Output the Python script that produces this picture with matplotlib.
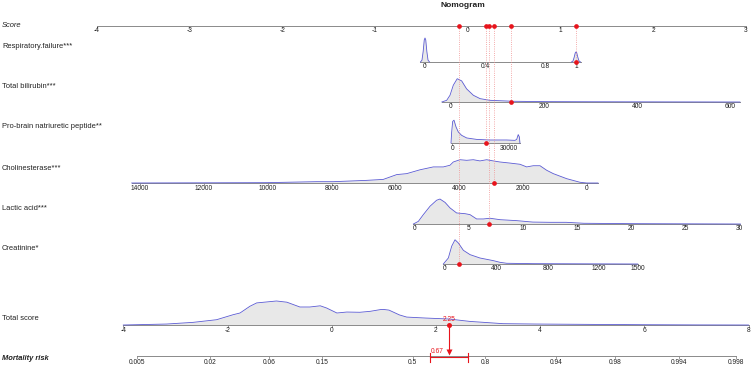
import numpy as np
import matplotlib.pyplot as plt

plt.rcParams['font.family'] = ['Liberation Sans', 'DejaVu Sans']

W, H = 753, 368

# ---------------- data ----------------
VAR_LABELS = ["Respiratory.failure***", "Total bilirubin***",
              "Pro-brain natriuretic peptide**", "Cholinesterase***",
              "Lactic acid***", "Creatinine*"]

# score contribution of each variable: b0 + b1 * value
POINT_B0 = [-0.4603, -0.1833, -0.1660, 1.2829, -0.5681, -0.2447]
POINT_B1 = [1.6279, 0.005029, 2.048e-5, -3.439e-4, 0.11654, 0.001385]

# the patient shown in red
PATIENT = [1, 130, 17700, 2905, 6.8, 109]

VAR_TICKS = [
    [0, 0.4, 0.8, 1],
    [0, 200, 400, 600],
    [0, 30000],
    [14000, 12000, 10000, 8000, 6000, 4000, 2000, 0],
    [0, 5, 10, 15, 20, 25, 30],
    [0, 400, 800, 1200, 1500],
]

SCORE_TICKS = [-4, -3, -2, -1, 0, 1, 2, 3]
TOTAL_TICKS = [-4, -2, 0, 2, 4, 6, 8]
RISK_TICKS = [0.005, 0.02, 0.06, 0.15, 0.5, 0.8, 0.94, 0.98, 0.994, 0.998]
RISK_OFFSET = -1.553          # logit(risk) = total score + offset
RISK_CI = [0.583, 0.744]

# kernel densities (relative heights)
RESP_X = [-0.03, -0.02, -0.012, -0.005, 0, 0.005, 0.012, 0.02, 0.03, np.nan,
          0.97, 0.98, 0.988, 0.995, 1, 1.005, 1.012, 1.02, 1.03]
RESP_D = [0, 0.08, 0.45, 0.92, 1.0, 0.92, 0.45, 0.08, 0, np.nan,
          0, 0.04, 0.2, 0.38, 0.42, 0.38, 0.2, 0.04, 0]

BILI_X = [-19, -8.6, -1.5, 5.6, 14, 23.5, 34, 48.6, 63, 84, 134, 206, 300, 450, 620]
BILI_D = [0, 0.07, 0.28, 0.70, 0.97, 0.88, 0.55, 0.28, 0.14, 0.07, 0.03, 0.015,
          0.01, 0.005, 0]

BNP_X = [-680, -330, 200, 900, 1950, 3160, 4900, 7580, 12800, 19800, 28600,
         33000, 33900, 34700, 35300, 35600]
BNP_D = [0, 0.46, 0.90, 0.95, 0.67, 0.46, 0.32, 0.21, 0.15, 0.125, 0.125,
         0.11, 0.15, 0.35, 0.25, 0]

CHE_X = [14263, 10031, 8464, 7944, 6897, 6376, 5956, 5643, 5226, 4809, 4495,
         4285, 4182, 3972, 3762, 3555, 3345, 3135, 2928, 2718, 2404, 2091, 1881,
         1674, 1464, 1254, 1047, 627, 210, 0, -354]
CHE_D = [0, 0.014, 0.055, 0.055, 0.11, 0.15, 0.35, 0.39, 0.55, 0.67, 0.67,
         0.74, 0.875, 0.97, 0.945, 0.97, 0.92, 0.97, 0.92, 0.875, 0.83, 0.78,
         0.67, 0.72, 0.72, 0.53, 0.39, 0.18, 0.03, 0, 0]

LAC_X = [-0.15, 0.31, 0.77, 1.39, 2.0, 2.31, 2.78, 3.24, 3.85, 4.63, 5.09, 5.7,
         6.32, 6.94, 7.86, 9.4, 10.9, 12.5, 14.0, 15.6, 20.2, 30.1]
LAC_D = [0, 0.11, 0.39, 0.74, 0.99, 1.04, 0.9, 0.67, 0.46, 0.43, 0.39, 0.21,
         0.21, 0.24, 0.18, 0.14, 0.08, 0.07, 0.07, 0.03, 0.014, 0]

CRE_X = [-13, 26, 52, 78, 104, 143, 195, 272, 376, 428, 480, 687, 1500]
CRE_D = [0, 0.25, 0.74, 1.01, 0.875, 0.57, 0.39, 0.25, 0.14, 0.07, 0.03, 0.014, 0]

TOT_X = [-4.0, -3.17, -2.66, -2.21, -1.89, -1.76, -1.57, -1.44, -1.25, -1.06,
         -0.86, -0.61, -0.42, -0.22, -0.10, 0.10, 0.29, 0.54, 0.74, 0.93, 0.99,
         1.1, 1.3, 1.44, 1.8, 2.25, 2.65, 3.29, 3.93, 5.0, 6.05, 7.0, 8.0]
TOT_D = [0, 0.04, 0.11, 0.22, 0.43, 0.5, 0.78, 0.92, 0.96, 1.0, 0.95, 0.75,
         0.75, 0.8, 0.71, 0.5, 0.54, 0.53, 0.57, 0.64, 0.65, 0.62, 0.42, 0.33,
         0.29, 0.25, 0.15, 0.055, 0.04, 0.025, 0.012, 0.004, 0]

VAR_DENS = [(RESP_X, RESP_D), (BILI_X, BILI_D), (BNP_X, BNP_D),
            (CHE_X, CHE_D), (LAC_X, LAC_D), (CRE_X, CRE_D)]

# ---------------- layout / style ----------------
SCORE_PX, SCORE0_PX = 92.76, 467.7     # px per score unit, px of score 0
TOTAL_PX, TOTAL0_PX = 52.1, 331.7
SCORE_Y = 25.5
ROW_Y = [62, 102, 143, 183, 224, 264]
LABEL_Y = [46, 87, 127, 168, 209, 249]
TOTAL_Y, RISK_Y = 325, 355.5
DENS_H = 24

AXIS_C = '#8a8a8a'
TXT_C = '#222222'
LINE_C = '#5a5ad2'
FILL_C = '#e8e8e8'
RED = '#e8141c'
TICK_FS = 4.8
LAB_FS = 5.4


def draw_scale(a, y, lo, hi, pos, labels, dy=5.0):
    a.plot([lo, hi], [y, y], color=AXIS_C, lw=0.7, zorder=2)
    for p, t in zip(pos, labels):
        a.plot([p, p], [y, y + 2.2], color=AXIS_C, lw=0.6, zorder=2)
        a.text(p, y + dy, t, ha='center', va='center', fontsize=TICK_FS, color=TXT_C)


def draw_density(a, y, xs, dens):
    xs = np.asarray(xs, dtype=float)
    ys = y - DENS_H * np.asarray(dens, dtype=float)
    a.fill_between(xs, ys, y, color=FILL_C, lw=0, zorder=1)
    a.plot(xs, ys, color=LINE_C, lw=0.6, zorder=3)


def fig_label(y, text, **kw):
    fig.text(2 / W, 1 - y / H, text, ha='left', va='center',
             fontsize=LAB_FS, color=TXT_C, **kw)


fig = plt.figure(figsize=(W / 100, H / 100), dpi=100)
ax = fig.add_axes([0, 0, 1, 1])
ax.set_xlim(-SCORE0_PX / SCORE_PX, (W - SCORE0_PX) / SCORE_PX)
ax.set_ylim(H, 0)
ax.axis('off')

ax2 = fig.add_axes([0, 0, 1, 1])
ax2.set_xlim(-TOTAL0_PX / TOTAL_PX, (W - TOTAL0_PX) / TOTAL_PX)
ax2.set_ylim(H, 0)
ax2.axis('off')
ax2.patch.set_visible(False)

fig.text(463 / W, 1 - 5.5 / H, "Nomogram", ha='center', va='center',
         fontsize=6, fontweight='bold', color=TXT_C)

# score axis
draw_scale(ax, SCORE_Y, SCORE_TICKS[0], SCORE_TICKS[-1], SCORE_TICKS,
           [str(t) for t in SCORE_TICKS], dy=4.5)
fig_label(SCORE_Y, "Score", style='italic')

# variable rows
scores = []
for i, lab in enumerate(VAR_LABELS):
    b0, b1 = POINT_B0[i], POINT_B1[i]
    dx, dd = VAR_DENS[i]
    dens_pos = b0 + b1 * np.asarray(dx, dtype=float)
    tick_pos = b0 + b1 * np.asarray(VAR_TICKS[i], dtype=float)
    allp = np.concatenate([dens_pos, tick_pos])
    y = ROW_Y[i]
    draw_density(ax, y, dens_pos, dd)
    draw_scale(ax, y, np.nanmin(allp), np.nanmax(allp), tick_pos,
               [f"{t:g}" for t in VAR_TICKS[i]])
    fig_label(LABEL_Y[i], lab)

    s = b0 + b1 * PATIENT[i]
    scores.append(s)
    ax.plot([s, s], [SCORE_Y, y], color='#f09090', lw=0.6, ls=':', zorder=4)
    ax.plot(s, y, 'o', color=RED, ms=3.4, mec='none', zorder=6)
    ax.plot(s, SCORE_Y, 'o', color=RED, ms=3.4, mec='none', zorder=6)

total = sum(scores)
risk = 1 / (1 + np.exp(-(total + RISK_OFFSET)))

# total score row
draw_density(ax2, TOTAL_Y, TOT_X, TOT_D)
draw_scale(ax2, TOTAL_Y, TOTAL_TICKS[0], TOTAL_TICKS[-1], TOTAL_TICKS,
           [str(t) for t in TOTAL_TICKS], dy=5.5)
fig_label(TOTAL_Y - 7, "Total score")
ax2.plot(total, TOTAL_Y, 'o', color=RED, ms=3.6, mec='none', zorder=6)
ax2.text(total, TOTAL_Y - 2.3, f"{total:.2f}", ha='center', va='bottom',
         fontsize=TICK_FS, color=RED, zorder=7)

# mortality risk row
rt = np.asarray(RISK_TICKS)
risk_pos = np.log(rt / (1 - rt)) - RISK_OFFSET
draw_scale(ax2, RISK_Y, risk_pos[0], risk_pos[-1], risk_pos,
           [f"{t:g}" for t in RISK_TICKS], dy=7.5)
fig_label(RISK_Y + 2.5, "Mortality risk", style='italic', fontweight='bold')

ci = np.asarray(RISK_CI)
ci_pos = np.log(ci / (1 - ci)) - RISK_OFFSET
ax2.plot(ci_pos, [RISK_Y + 1.5] * 2, color=RED, lw=0.8, zorder=5)
for c in ci_pos:
    ax2.plot([c, c], [RISK_Y - 3, RISK_Y + 6], color=RED, lw=0.8, zorder=5)
ax2.plot([total, total], [TOTAL_Y, RISK_Y - 4], color=RED, lw=0.8, zorder=5)
ax2.plot(total, RISK_Y - 3.2, marker='v', color=RED, ms=4, mec='none', zorder=6)
ax2.annotate(f"{risk:.2f}", (total, RISK_Y - 4), xytext=(-5, 0),
             textcoords='offset pixels', ha='right', va='center',
             fontsize=TICK_FS, color=RED)

fig.savefig("out.png", dpi=100)
